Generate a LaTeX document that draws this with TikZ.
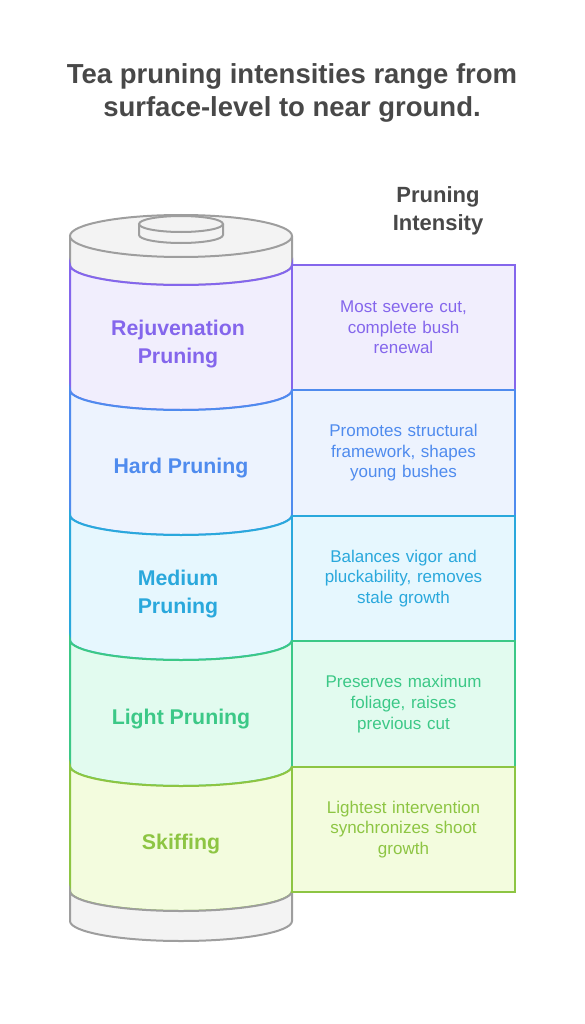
\documentclass[tikz,border=0pt]{standalone}
\usepackage{fontspec}
\setmainfont{Liberation Sans}
\usetikzlibrary{positioning}

\definecolor{titlegray}{HTML}{484848}
\definecolor{capline}{HTML}{9E9E9E}
\definecolor{capfill}{HTML}{F3F3F3}
\definecolor{rejline}{HTML}{8466EC}
\definecolor{rejfill}{HTML}{F1EEFD}
\definecolor{hardline}{HTML}{4F8BEE}
\definecolor{hardfill}{HTML}{EDF3FE}
\definecolor{medline}{HTML}{2AA8DC}
\definecolor{medfill}{HTML}{E6F7FE}
\definecolor{lightline}{HTML}{3CC887}
\definecolor{lightfill}{HTML}{E2FBEF}
\definecolor{skifline}{HTML}{8DC543}
\definecolor{skiffill}{HTML}{F3FCDE}

\begin{document}
\begin{tikzpicture}[
  x=1pt, y=1pt,
  lidpart/.style={draw=capline, fill=capfill, line width=2pt},
  band/.style={line width=2pt},
  lbl/.style={font=\bfseries\fontsize{21.3}{27.5}\selectfont, align=center},
  desc/.style={draw, line width=2pt, outer sep=0pt, inner sep=0pt,
               minimum width=223pt, minimum height=125.5pt, align=center,
               text width=200pt, font=\fontsize{17}{20.6}\selectfont},
  ttl/.style={font=\bfseries\fontsize{27.5}{32.5}\selectfont, align=center,
              text=titlegray}
]
\useasboundingbox (0,0) rectangle (585,-1024);

\node[ttl] (title) at (292,-93)
  {Tea pruning intensities range from\\surface-level to near ground.};
\node[ttl, font=\bfseries\fontsize{22}{27.5}\selectfont] (axis) at (438,-211)
  {Pruning\\Intensity};

% lid and knob
\draw[lidpart] (70,-236) -- (70,-265)
  arc[start angle=180, end angle=360, x radius=111, y radius=20]
  -- (292,-236);
\draw[lidpart] (181,-236) ellipse[x radius=111, y radius=21];
\draw[lidpart] (139,-224) -- (139,-235)
  arc[start angle=180, end angle=360, x radius=42, y radius=8]
  -- (223,-224);
\draw[lidpart] (181,-224) ellipse[x radius=42, y radius=8];

% bands, top to bottom
\draw[band, draw=rejline, fill=rejfill] (70,-265)
  arc[start angle=180, end angle=360, x radius=111, y radius=20] -- (292,-390)
  arc[start angle=0, end angle=-180, x radius=111, y radius=20] -- cycle;
\draw[band, draw=hardline, fill=hardfill] (70,-390)
  arc[start angle=180, end angle=360, x radius=111, y radius=20] -- (292,-515)
  arc[start angle=0, end angle=-180, x radius=111, y radius=20] -- cycle;
\draw[band, draw=medline, fill=medfill] (70,-515)
  arc[start angle=180, end angle=360, x radius=111, y radius=20] -- (292,-640)
  arc[start angle=0, end angle=-180, x radius=111, y radius=20] -- cycle;
\draw[band, draw=lightline, fill=lightfill] (70,-640)
  arc[start angle=180, end angle=360, x radius=111, y radius=20] -- (292,-766)
  arc[start angle=0, end angle=-180, x radius=111, y radius=20] -- cycle;
\draw[band, draw=skifline, fill=skiffill] (70,-766)
  arc[start angle=180, end angle=360, x radius=111, y radius=20] -- (292,-891)
  arc[start angle=0, end angle=-180, x radius=111, y radius=20] -- cycle;

% base
\draw[lidpart] (70,-891)
  arc[start angle=180, end angle=360, x radius=111, y radius=20] -- (292,-921)
  arc[start angle=0, end angle=-180, x radius=111, y radius=20] -- cycle;

\node[lbl, text=rejline] (rej) at (178,-344) {Rejuvenation\\Pruning};
\node[lbl, text=hardline] (hard) at (181,-468) {Hard Pruning};
\node[lbl, text=medline] (med) at (178,-594) {Medium\\Pruning};
\node[lbl, text=lightline] (light) at (181,-719) {Light Pruning};
\node[lbl, text=skifline] (skif) at (181,-844) {Skiffing};

% descriptions
\node[desc, draw=rejline, fill=rejfill, text=rejline] (rejd) at (403.5,-327.5)
  {Most severe cut,\\complete bush\\renewal};
\node[desc, draw=hardline, fill=hardfill, text=hardline, below=0pt of rejd] (hardd)
  {Promotes structural\\framework, shapes\\young bushes};
\node[desc, draw=medline, fill=medfill, text=medline, below=0pt of hardd] (medd)
  {Balances vigor and\\pluckability, removes\\stale growth};
\node[desc, draw=lightline, fill=lightfill, text=lightline, below=0pt of medd] (lightd)
  {Preserves maximum\\foliage, raises\\previous cut};
\node[desc, draw=skifline, fill=skiffill, text=skifline, below=0pt of lightd] (skifd)
  {Lightest intervention\\synchronizes shoot\\growth};

\end{tikzpicture}
\end{document}
